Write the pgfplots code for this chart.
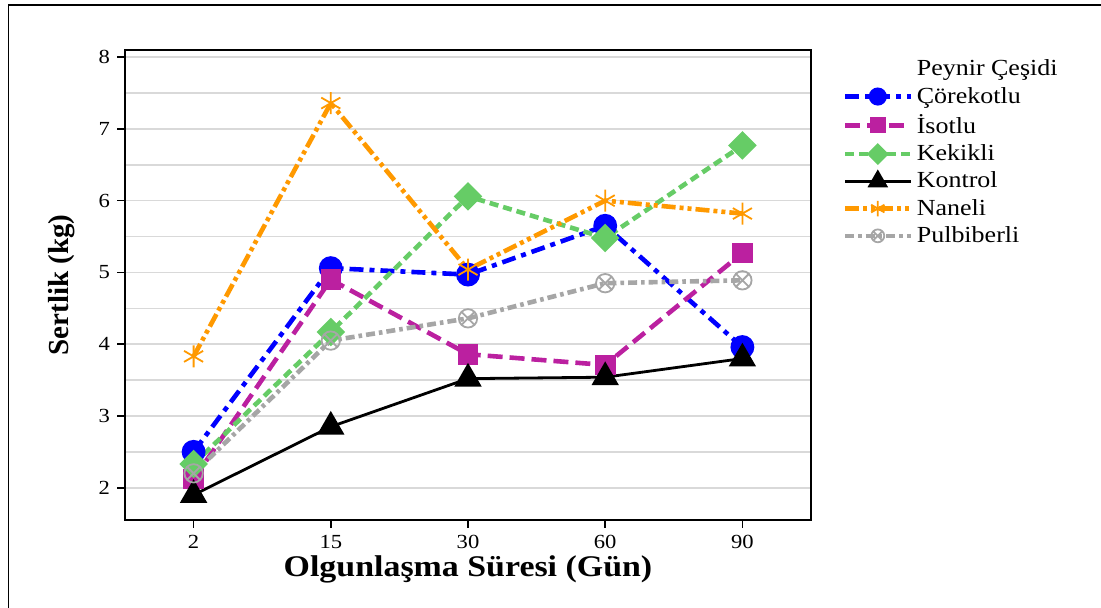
\documentclass[border=0pt]{standalone}
\usepackage{graphicx}
\usepackage{pgfplots}
\pgfplotsset{compat=1.18}
\usepackage{fontspec}
\setmainfont{Liberation Serif}
\definecolor{cBlue}{RGB}{0,0,255}
\definecolor{cMag}{RGB}{187,32,160}
\definecolor{cGreen}{RGB}{102,204,102}
\definecolor{cOrange}{RGB}{255,153,0}
\definecolor{cGray}{RGB}{166,166,166}
\definecolor{cGrid}{RGB}{217,217,217}
\newcommand{\sx}[1]{\scalebox{1.13}[1]{#1}}
\begin{document}
\begin{tikzpicture}
\useasboundingbox (0,0) rectangle (550.5pt,304pt);
\draw[line width=0.8pt] (4.3pt,0) -- (4.3pt,301.5pt) -- (550.5pt,301.5pt);
\begin{axis}[
  at={(62.5pt,44pt)}, anchor=south west,
  scale only axis, width=343pt, height=235pt,
  xmin=-0.5, xmax=4.5, ymin=1.55, ymax=8.1,
  xtick={0,1,2,3,4}, xticklabels={\sx{2},\sx{15},\sx{30},\sx{60},\sx{90}},
  ytick={2,3,4,5,6,7,8}, yticklabels={\sx{2},\sx{3},\sx{4},\sx{5},\sx{6},\sx{7},\sx{8}},
  minor ytick={2.5,3.5,4.5,5.5,6.5,7.5},
  ymajorgrids, yminorgrids,
  major grid style={cGrid, line width=0.8pt},
  minor grid style={cGrid, line width=0.8pt},
  minor tick length=0pt,
  tick align=outside, major tick length=4pt,
  xtick pos=bottom, ytick pos=left,
  axis line style={line width=0.9pt},
  tick style={black, line width=0.8pt},
  tick label style={font=\fontsize{10}{12}\selectfont},
  xlabel={\sx{\textbf{Olgunlaşma Süresi (Gün)}}},
  ylabel={\textbf{Sertlik (kg)}},
  xlabel style={font=\fontsize{15}{18}\selectfont, at={(axis description cs:0.5,-0.105)}, anchor=center},
  ylabel style={font=\fontsize{14.5}{17}\selectfont, at={(axis description cs:-0.092,0.5)}, anchor=center},
  legend style={at={(1.037,0.997)}, anchor=north west, draw=none, fill=none,
    font=\fontsize{11.5}{13.75}\selectfont, row sep=0.15pt,
    /tikz/every even column/.append style={column sep=3pt}},
  legend cell align=left,
  legend image code/.code={
    \draw[mark repeat=2,mark phase=2,#1, every mark/.append style={scale=0.7}] plot coordinates {(0cm,0cm) (0.575cm,0cm) (1.15cm,0cm)};},
]
\addlegendimage{empty legend}
\addlegendentry{\sx{Peynir Çeşidi}}
\addplot[cBlue, line width=2.3pt, dash pattern=on 7pt off 3pt on 2.5pt off 3pt, mark=*, mark size=4.8pt, mark options={solid}]
  coordinates {(0,2.50) (1,5.06) (2,4.97) (3,5.65) (4,3.96)};
\addlegendentry{\sx{Çörekotlu}}
\addplot[cMag, line width=2.3pt, dash pattern=on 7.5pt off 3.5pt, mark=square*, mark size=4pt, mark options={solid}]
  coordinates {(0,2.12) (1,4.90) (2,3.86) (3,3.71) (4,5.27)};
\addlegendentry{\sx{İsotlu}}
\addplot[cGreen, line width=2.3pt, dash pattern=on 4.5pt off 2.5pt, mark=square*, mark size=3.9pt, mark options={solid, rotate=45}]
  coordinates {(0,2.33) (1,4.17) (2,6.06) (3,5.48) (4,6.77)};
\addlegendentry{\sx{Kekikli}}
\addplot[black, line width=1.4pt, mark=triangle*, mark size=6.5pt, mark options={solid}]
  coordinates {(0,1.90) (1,2.85) (2,3.52) (3,3.54) (4,3.80)};
\addlegendentry{\sx{Kontrol}}
\addplot[cOrange, line width=2.3pt, dash pattern=on 7pt off 2pt on 2pt off 2pt on 2pt off 2pt, mark=asterisk, mark size=5.5pt, mark options={solid, line width=0.9pt}]
  coordinates {(0,3.83) (1,7.36) (2,5.04) (3,6.00) (4,5.82)};
\addlegendentry{\sx{Naneli}}
\addplot[cGray, line width=2.3pt, dash pattern=on 4.5pt off 2pt on 1.8pt off 2pt, mark=otimes, mark size=4.6pt, mark options={solid, line width=0.9pt, fill=white}]
  coordinates {(0,2.20) (1,4.05) (2,4.36) (3,4.85) (4,4.89)};
\addlegendentry{\sx{Pulbiberli}}
\end{axis}
\end{tikzpicture}
\end{document}
